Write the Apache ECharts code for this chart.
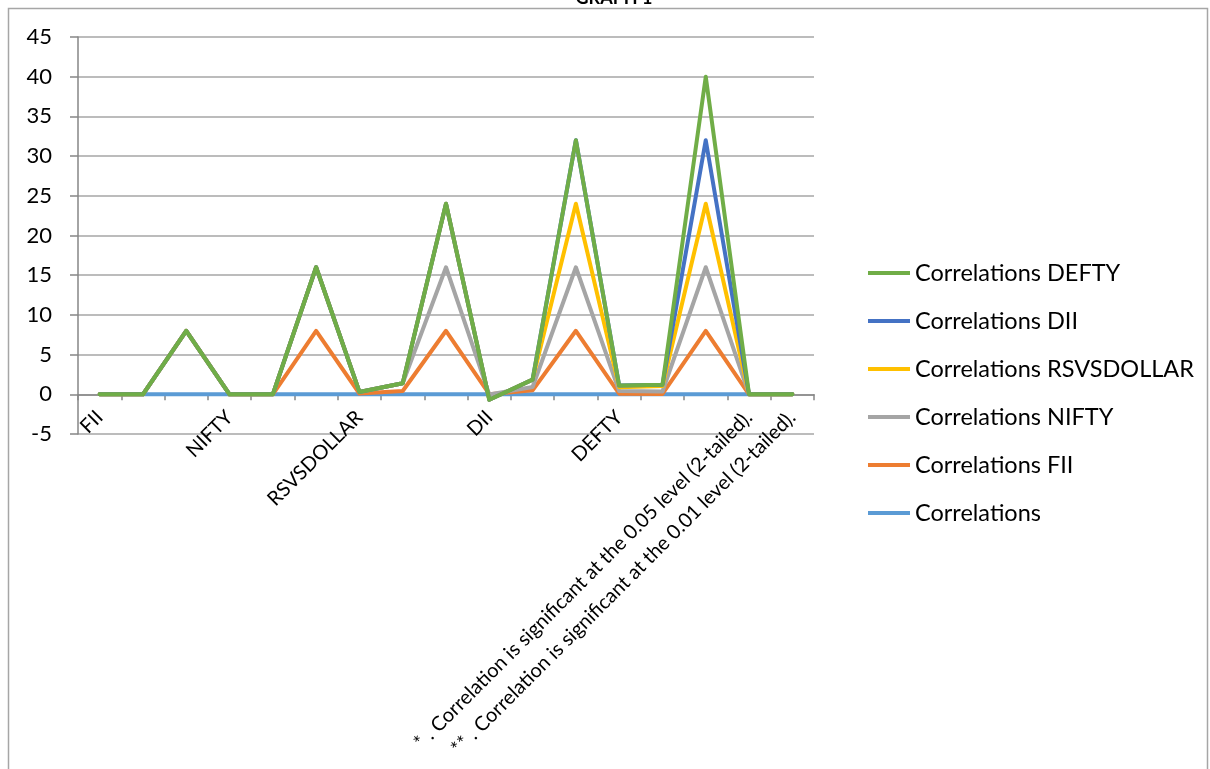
<!DOCTYPE html>
<html>
<head>
<meta charset="utf-8">
<script src="https://cdn.jsdelivr.net/npm/echarts@6/dist/echarts.min.js"></script>
<style>
  html, body { margin: 0; padding: 0; background: #fff; }
  #chart { width: 1210px; height: 769px; }
</style>
</head>
<body>
<div id="chart"></div>
<script>
// Row labels of the correlation table (blank cells for the Sig. / N rows)
const categories = [
  'FII', '', '',
  'NIFTY', '', '',
  'RSVSDOLLAR', '', '',
  'DII', '', '',
  'DEFTY', '', '',
  '* . Correlation is significant at the 0.05 level (2-tailed).',
  '** . Correlation is significant at the 0.01 level (2-tailed).'
];

// One array per table column
const correlations = [0, 0, 0, 0, 0, 0, 0, 0, 0, 0, 0, 0, 0, 0, 0, 0, 0];
const fii          = [0, 0, 8, 0, 0, 8, 0.1, 0.42, 8, 0.02, 0.5, 8, 0.08, 0.05, 8, 0, 0];
const nifty        = [0, 0, 0, 0, 0, 8, 0.2, 0.98, 8, -0.05, 0.42, 8, 0.32, 0.3, 8, 0, 0];
const rsvsdollar   = [0, 0, 0, 0, 0, 0, 0, 0, 8, -0.65, 0.93, 8, 0.5, 0.7, 8, 0, 0];
const dii          = [0, 0, 0, 0, 0, 0, 0, 0, 0, 0, 0, 8, 0.2, 0.15, 8, 0, 0];
const defty        = [0, 0, 0, 0, 0, 0, 0, 0, 0, 0, 0, 0, 0, 0, 8, 0, 0];

const yTicks = { min: -5, max: 45, step: 5 };

const FONT = 'Lato';

const seriesDefs = [
  { name: 'Correlations',            data: correlations, color: '#5B9BD5' },
  { name: 'Correlations FII',        data: fii,          color: '#ED7D31' },
  { name: 'Correlations NIFTY',      data: nifty,        color: '#A5A5A5' },
  { name: 'Correlations RSVSDOLLAR', data: rsvsdollar,   color: '#FFC000' },
  { name: 'Correlations DII',        data: dii,          color: '#4472C4' },
  { name: 'Correlations DEFTY',      data: defty,        color: '#70AD47' }
];

const chart = echarts.init(document.getElementById('chart'), null, { renderer: 'canvas' });

chart.setOption({
  animation: false,
  backgroundColor: '#ffffff',
  graphic: [
    {
      type: 'rect',
      shape: { x: 8.5, y: 8.5, width: 1199, height: 800 },
      style: { fill: 'none', stroke: '#A6A6A6', lineWidth: 1.5 },
      silent: true
    },
    {
      type: 'text',
      x: 614, y: 7,
      style: {
        text: 'GRAPH 1',
        font: 'bold 18px ' + FONT,
        fill: '#000',
        align: 'center',
        verticalAlign: 'bottom'
      },
      silent: true
    }
  ],
  grid: { left: 78, right: 396, top: 37, bottom: 335, containLabel: false },
  legend: {
    orient: 'vertical',
    left: 863,
    top: 256,
    icon: 'rect',
    itemWidth: 42,
    itemHeight: 4,
    itemGap: 24,
    data: seriesDefs.map(s => s.name).reverse(),
    textStyle: { fontFamily: FONT, fontSize: 23.5, color: '#000', lineHeight: 24 }
  },
  xAxis: {
    type: 'category',
    data: categories,
    boundaryGap: true,
    axisLine: { show: true, onZero: true, lineStyle: { color: '#868686', width: 1.5 } },
    axisTick: { show: true, length: 6, inside: false, lineStyle: { color: '#868686', width: 1.5 } },
    axisLabel: {
      interval: 0,
      rotate: 45,
      margin: -20,
      fontFamily: FONT,
      fontSize: 20,
      color: '#000'
    },
    splitLine: { show: false }
  },
  yAxis: {
    type: 'value',
    min: yTicks.min,
    max: yTicks.max,
    interval: yTicks.step,
    axisLine: { show: true, lineStyle: { color: '#868686', width: 1.5 } },
    axisTick: { show: true, length: 8, lineStyle: { color: '#868686', width: 1.5 } },
    axisLabel: { margin: 26, fontFamily: FONT, fontSize: 22, color: '#000' },
    splitLine: { show: true, lineStyle: { color: '#A6A6A6', width: 1.5 } }
  },
  series: seriesDefs.map(s => ({
    name: s.name,
    type: 'line',
    stack: 'total',
    stackStrategy: 'all',
    data: s.data,
    symbol: 'none',
    showSymbol: false,
    color: s.color,
    lineStyle: { color: s.color, width: 4, join: 'round', cap: 'round' },
    emphasis: { disabled: true }
  }))
});
</script>
</body>
</html>
